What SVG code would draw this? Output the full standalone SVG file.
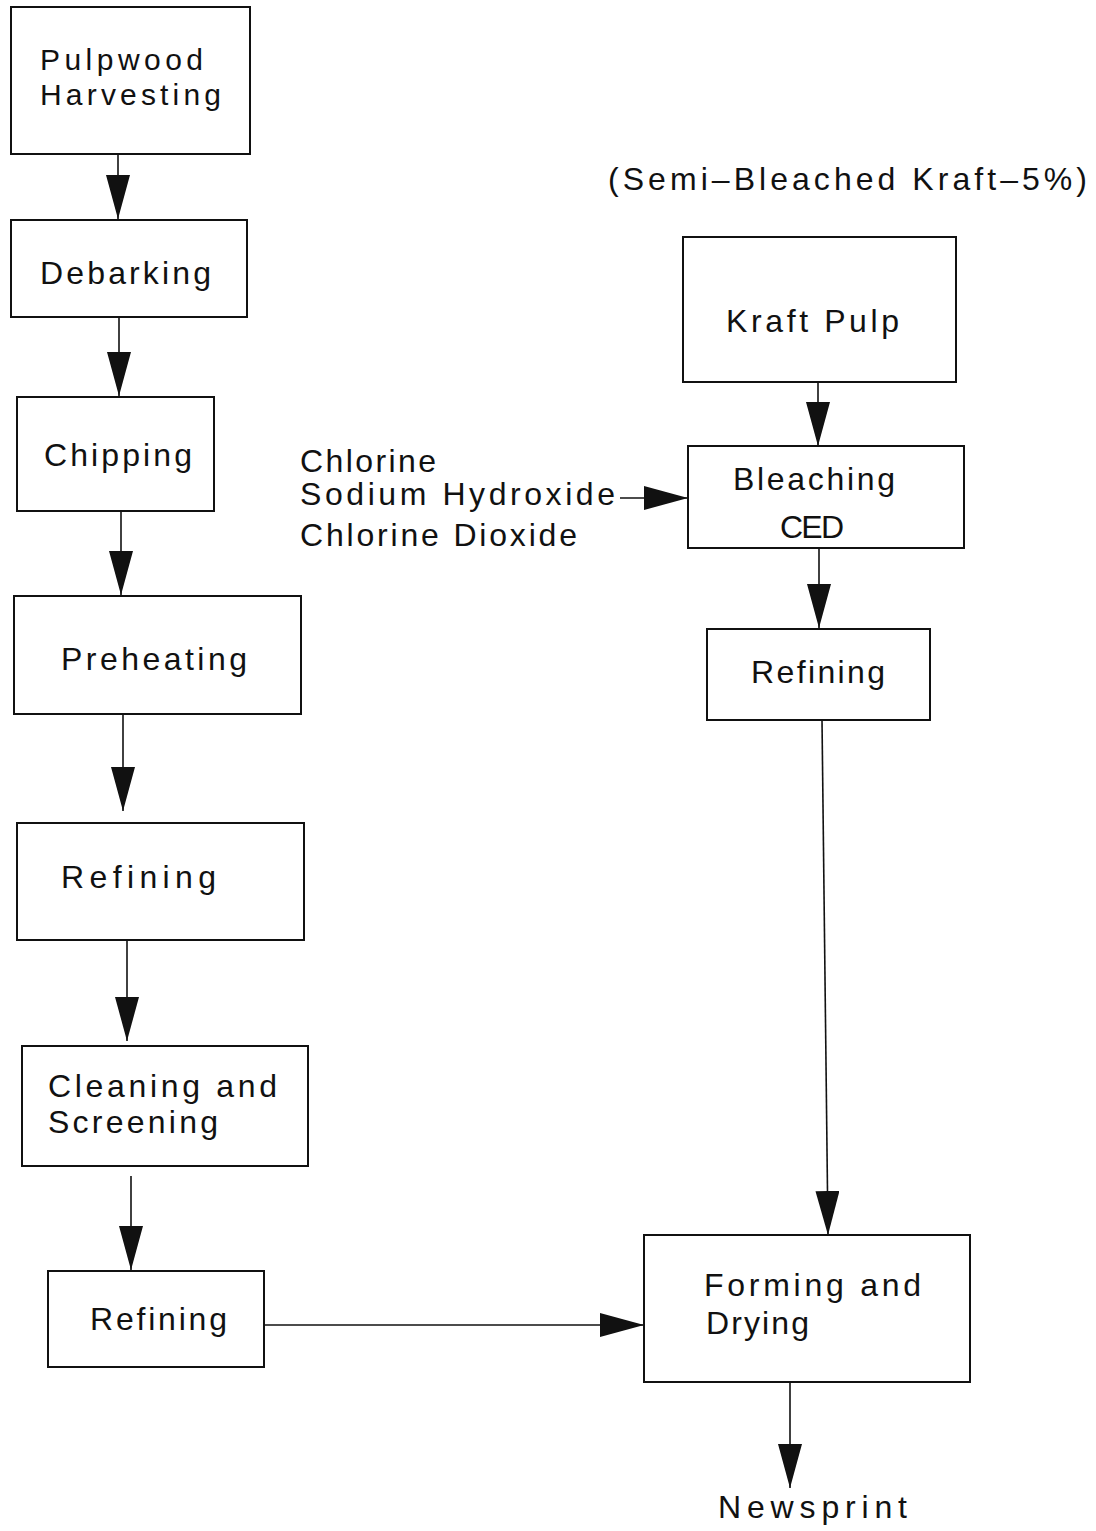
<svg xmlns="http://www.w3.org/2000/svg" width="1096" height="1531" viewBox="0 0 1096 1531">
<defs>
<style>
.box{fill:#fff;stroke:#111;stroke-width:2}
.t{font-family:"Liberation Sans","DejaVu Sans",sans-serif;font-size:32px;fill:#111;letter-spacing:1px}
.s{font-size:30px}
.c{fill:none;stroke:#111;stroke-width:1.6}
</style>
<marker id="ah" markerUnits="userSpaceOnUse" markerWidth="46" markerHeight="26" refX="44" refY="12" orient="auto">
<path d="M0,0 L44,12 L0,24 Z" fill="#111"/>
</marker>
</defs>
<rect width="1096" height="1531" fill="#fff"/>
<g id="connectors">
<line class="c" x1="118" y1="154" x2="118" y2="219" marker-end="url(#ah)"/>
<line class="c" x1="119" y1="317" x2="119" y2="396" marker-end="url(#ah)"/>
<line class="c" x1="121" y1="511" x2="121" y2="595" marker-end="url(#ah)"/>
<line class="c" x1="123" y1="714" x2="123" y2="811" marker-end="url(#ah)"/>
<line class="c" x1="127" y1="940" x2="127" y2="1041" marker-end="url(#ah)"/>
<line class="c" x1="131" y1="1176" x2="131" y2="1270" marker-end="url(#ah)"/>
<line class="c" x1="264" y1="1325" x2="644" y2="1325" marker-end="url(#ah)"/>
<line class="c" x1="818" y1="382" x2="818" y2="446" marker-end="url(#ah)"/>
<line class="c" x1="819" y1="548" x2="819" y2="628" marker-end="url(#ah)"/>
<line class="c" x1="822" y1="720" x2="828" y2="1235" marker-end="url(#ah)"/>
<line class="c" x1="790" y1="1382" x2="790" y2="1488" marker-end="url(#ah)"/>
<line class="c" x1="620" y1="498" x2="688" y2="498" marker-end="url(#ah)"/>
</g>
<g id="n1"><rect class="box" x="11" y="7" width="239" height="147"/>
<text class="t s" x="40" y="70" textLength="164">Pulpwood</text>
<text class="t s" x="40" y="105" textLength="182">Harvesting</text></g>
<g id="n2"><rect class="box" x="11" y="220" width="236" height="97"/>
<text class="t" x="40" y="284" textLength="172">Debarking</text></g>
<g id="n3"><rect class="box" x="17" y="397" width="197" height="114"/>
<text class="t" x="44" y="466" textLength="149">Chipping</text></g>
<g id="n4"><rect class="box" x="14" y="596" width="287" height="118"/>
<text class="t" x="61" y="670" textLength="187">Preheating</text></g>
<g id="n5"><rect class="box" x="17" y="823" width="287" height="117"/>
<text class="t" x="61" y="888" textLength="156">Refining</text></g>
<g id="n6"><rect class="box" x="22" y="1046" width="286" height="120"/>
<text class="t" x="48" y="1097" textLength="230">Cleaning and</text>
<text class="t" x="48" y="1133" textLength="171">Screening</text></g>
<g id="n7"><rect class="box" x="48" y="1271" width="216" height="96"/>
<text class="t" x="90" y="1330" textLength="138">Refining</text></g>
<g id="title"><text class="t" x="608" y="190" textLength="480">(Semi–Bleached Kraft–5%)</text></g>
<g id="n8"><rect class="box" x="683" y="237" width="273" height="145"/>
<text class="t" x="726" y="332" textLength="174">Kraft Pulp</text></g>
<g id="n9"><rect class="box" x="688" y="446" width="276" height="102"/>
<text class="t" x="733" y="490" textLength="163">Bleaching</text>
<text class="t" x="780" y="538" textLength="65">CED</text></g>
<g id="chem">
<text class="t" x="300" y="472" textLength="137">Chlorine</text>
<text class="t" x="300" y="505" textLength="316">Sodium Hydroxide</text>
<text class="t" x="300" y="546" textLength="278">Chlorine Dioxide</text></g>
<g id="n10"><rect class="box" x="707" y="629" width="223" height="91"/>
<text class="t" x="751" y="683" textLength="135">Refining</text></g>
<g id="n11"><rect class="box" x="644" y="1235" width="326" height="147"/>
<text class="t" x="704" y="1296" textLength="218">Forming and</text>
<text class="t" x="706" y="1334" textLength="104">Drying</text></g>
<g id="out"><text class="t" x="718" y="1518" textLength="190">Newsprint</text></g>
</svg>
